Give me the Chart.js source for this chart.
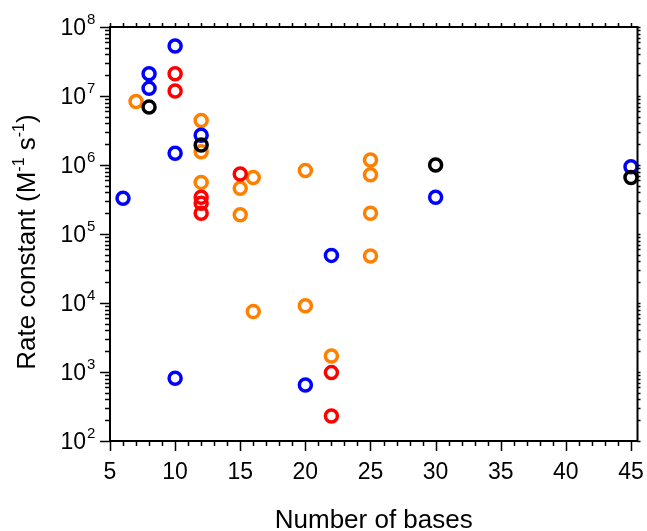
<!DOCTYPE html>
<html>
<head>
<meta charset="utf-8">
<script src="https://cdn.jsdelivr.net/npm/chart.js@4.4.0/dist/chart.umd.min.js"></script>
<style>
  html, body { margin: 0; padding: 0; background: #fff; overflow: hidden; }
  #wrap { width: 647px; height: 531px; position: relative; }
  #myChart { display: block; }
</style>
</head>
<body>
<div id="wrap"><canvas id="myChart"></canvas></div>
<script>
// Datos: numero de bases (x) y constante de velocidad (y)
var naranjaX = [7, 12, 12, 12, 15, 15, 16, 16, 20, 20, 22, 25, 25, 25, 25];
var naranjaY = [8.3e6, 4.4e6, 1.56e6, 5.6e5, 4.6e5, 1.9e5, 6.6e5, 7.5e3, 8.3e5, 9.1e3, 1.7e3, 1.18e6, 7.2e5, 2.0e5, 4.8e4];

var rojoX = [10, 10, 12, 12, 12, 15, 22, 22];
var rojoY = [2.1e7, 1.18e7, 3.4e5, 2.8e5, 2.0e5, 7.4e5, 980, 230];

var azulX = [6, 8, 8, 10, 10, 10, 12, 20, 22, 30, 45];
var azulY = [3.3e5, 2.1e7, 1.29e7, 5.3e7, 1.48e6, 810, 2.7e6, 650, 4.9e4, 3.4e5, 9.4e5];

var negroX = [8, 12, 30, 45];
var negroY = [6.9e6, 1.95e6, 1.0e6, 6.6e5];

var ticksX = [5, 10, 15, 20, 25, 30, 35, 40, 45];
var exponentesY = [2, 3, 4, 5, 6, 7, 8];

var tituloX = "Number of bases";
var tituloY = [["Rate constant (M", false], ["-1", true], [" s", false], ["-1", true], [")", false]];

function puntos(xs, ys) {
    return xs.map(function (x, i) {
        return { x: x, y: ys[i] };
    });
}

function serie(nombre, xs, ys, color, orden) {
    return {
        label: nombre,
        data: puntos(xs, ys),
        borderColor: color,
        backgroundColor: "rgba(0,0,0,0)",
        pointStyle: "circle",
        pointRadius: 6,
        pointHoverRadius: 6,
        pointBorderWidth: 3.5,
        order: orden
    };
}

var FUENTE = "'Liberation Sans', Arial, Helvetica, sans-serif";

// Marco, marcas, etiquetas y titulos dibujados con las escalas del grafico
var ejesPlugin = {
    id: "ejes",
    afterDraw: function (chart) {
        var c = chart.ctx;
        var a = chart.chartArea;
        var sx = chart.scales.x;
        var sy = chart.scales.y;
        c.save();
        c.strokeStyle = "#000";
        c.fillStyle = "#000";

        // marcas del eje x (menores cada 1, mayores cada 5)
        c.lineWidth = 1.5;
        for (var v = 5; v <= 45; v++) {
            var px = Math.round(sx.getPixelForValue(v)) + 0.5;
            var largo = (v % 5 === 0) ? 10 : 5;
            c.beginPath();
            c.moveTo(px, a.bottom);
            c.lineTo(px, a.bottom + largo);
            c.moveTo(px, a.top);
            c.lineTo(px, a.top - 4);
            c.stroke();
        }

        // marcas del eje y (logaritmico)
        for (var e = 2; e <= 8; e++) {
            for (var m = 1; m <= 9; m++) {
                if (e === 8 && m > 1) break;
                var val = m * Math.pow(10, e);
                var py = Math.round(sy.getPixelForValue(val)) + 0.5;
                var l = (m === 1) ? 10 : 5;
                c.beginPath();
                c.moveTo(a.left, py);
                c.lineTo(a.left - l, py);
                c.moveTo(a.right, py);
                c.lineTo(a.right + 3, py);
                c.stroke();
            }
        }

        // marco
        c.lineWidth = 2;
        c.strokeRect(a.left, a.top, a.right - a.left, a.bottom - a.top);

        // etiquetas eje x
        c.font = "23px " + FUENTE;
        c.textAlign = "center";
        c.textBaseline = "alphabetic";
        ticksX.forEach(function (t) {
            c.fillText(String(t), sx.getPixelForValue(t), 479);
        });

        // etiquetas eje y con superindice
        exponentesY.forEach(function (ex) {
            var y = sy.getPixelForValue(Math.pow(10, ex));
            c.font = "23px " + FUENTE;
            c.textAlign = "right";
            c.fillText("10", 86, y + 8);
            c.font = "15px " + FUENTE;
            c.textAlign = "left";
            c.fillText(String(ex), 87, y - 3);
        });

        // titulo eje x
        c.font = "26px " + FUENTE;
        c.textAlign = "center";
        c.fillText(tituloX, (a.left + a.right) / 2, 528);

        // titulo eje y (rotado, con superindices)
        c.translate(35, 242);
        c.rotate(-Math.PI / 2);
        var total = 0;
        tituloY.forEach(function (seg) {
            c.font = (seg[1] ? "16px " : "26px ") + FUENTE;
            total += c.measureText(seg[0]).width;
        });
        var x0 = -total / 2;
        c.textAlign = "left";
        tituloY.forEach(function (seg) {
            c.font = (seg[1] ? "16px " : "26px ") + FUENTE;
            c.fillText(seg[0], x0, seg[1] ? -11 : 0);
            x0 += c.measureText(seg[0]).width;
        });

        c.restore();
    }
};

var ctx = document.getElementById("myChart").getContext("2d");

var myChart = new Chart(ctx, {
    type: "scatter",
    data: {
        datasets: [
            serie("naranja", naranjaX, naranjaY, "#ff8000", 3),
            serie("rojo", rojoX, rojoY, "#ff0000", 2),
            serie("azul", azulX, azulY, "#0000ff", 1),
            serie("negro", negroX, negroY, "#000000", 0)
        ]
    },
    options: {
        responsive: true,
        maintainAspectRatio: false,
        animation: false,
        layout: {
            padding: { left: 110, top: 27, right: 3, bottom: 90 }
        },
        plugins: {
            legend: { display: false },
            tooltip: { enabled: false }
        },
        scales: {
            x: {
                type: "linear",
                display: false,
                min: 5,
                max: 45.5
            },
            y: {
                type: "logarithmic",
                display: false,
                min: 100,
                max: 1e8
            }
        },
        clip: false
    },
    plugins: [ejesPlugin]
});
</script>
</body>
</html>
